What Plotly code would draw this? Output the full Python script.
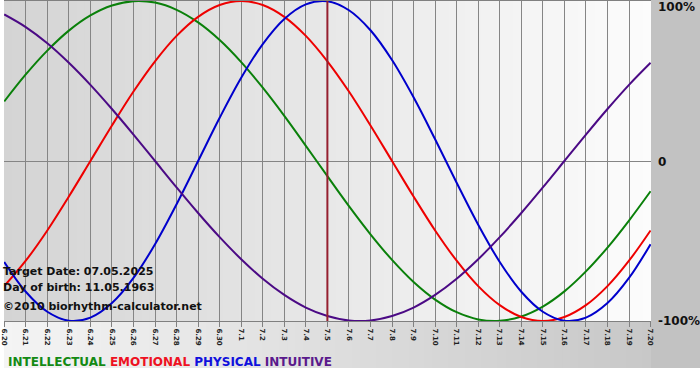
import plotly.graph_objects as go

# ---------------- data ----------------
date_labels = ["6.20", "6.21", "6.22", "6.23", "6.24", "6.25", "6.26", "6.27", "6.28", "6.29",
               "6.30", "7.1", "7.2", "7.3", "7.4", "7.5", "7.6", "7.7", "7.8", "7.9",
               "7.10", "7.11", "7.12", "7.13", "7.14", "7.15", "7.16", "7.17", "7.18", "7.19", "7.20"]
day_index = list(range(len(date_labels)))

intellectual = [0.372, 0.541, 0.690, 0.815, 0.910, 0.972, 0.999, 0.990, 0.945, 0.866,
                0.756, 0.618, 0.458, 0.282, 0.095, -0.095, -0.282, -0.458, -0.618, -0.756,
                -0.866, -0.945, -0.990, -0.999, -0.972, -0.910, -0.815, -0.690, -0.541, -0.372, -0.189]
emotional = [-0.782, -0.623, -0.434, -0.222, 0.000, 0.222, 0.434, 0.623, 0.782, 0.901,
             0.975, 1.000, 0.975, 0.901, 0.782, 0.623, 0.434, 0.222, 0.000, -0.222,
             -0.434, -0.623, -0.782, -0.901, -0.975, -1.000, -0.975, -0.901, -0.782, -0.623, -0.434]
physical = [-0.631, -0.817, -0.942, -0.998, -0.979, -0.888, -0.731, -0.520, -0.270, 0.000,
            0.270, 0.520, 0.731, 0.888, 0.979, 0.998, 0.942, 0.817, 0.631, 0.398,
            0.136, -0.136, -0.398, -0.631, -0.817, -0.942, -0.998, -0.979, -0.888, -0.731, -0.520]
intuitive = [0.916, 0.837, 0.736, 0.614, 0.476, 0.325, 0.165, 0.000, -0.165, -0.325,
             -0.476, -0.614, -0.736, -0.837, -0.916, -0.969, -0.997, -0.997, -0.969, -0.916,
             -0.837, -0.736, -0.614, -0.476, -0.325, -0.165, 0.000, 0.165, 0.325, 0.476, 0.614]

target_index = 15  # 7.5
y_tick_vals = [1, 0, -1]
y_tick_text = ["100%", "0", "-100%"]

series = [
    ("INTELLECTUAL", intellectual, "#0a800a"),
    ("EMOTIONAL", emotional, "#ee0000"),
    ("PHYSICAL", physical, "#0000cc"),
    ("INTUITIVE", intuitive, "#4b0a85"),
]

# ---------------- layout geometry ----------------
W, H = 700, 380
ML, MR, MT, MB = 0, 49, 1, 59
PW, PH = W - ML - MR, H - MT - MB

def px_x(p):
    return (p - ML) / PW

def px_y(p):
    return (H - MB - p) / PH

def gray(v):
    v = int(round(v))
    return f"rgb({v},{v},{v})"

shapes = []
# plot background gradient (left grey -> right white)
N = 80
for i in range(N):
    t = i / (N - 1)
    shapes.append(dict(type="rect", xref="paper", yref="paper",
                       x0=i / N, x1=(i + 1) / N + 0.002, y0=0, y1=1,
                       fillcolor=gray(212 + (252 - 212) * t), line=dict(width=0), layer="below"))
# bottom strip gradient (light -> grey)
for i in range(N):
    t = i / (N - 1)
    shapes.append(dict(type="rect", xref="paper", yref="paper",
                       x0=i / N, x1=(i + 1) / N + 0.002, y0=px_y(368), y1=0,
                       fillcolor=gray(244 - (244 - 200) * t), line=dict(width=0), layer="below"))
# right margin grey
shapes.append(dict(type="rect", xref="paper", yref="paper",
                   x0=1, x1=px_x(W) + 0.01, y0=px_y(368), y1=px_y(0) + 0.01,
                   fillcolor="rgb(194,194,194)", line=dict(width=0), layer="below"))
# target date line
shapes.append(dict(type="line", xref="x", yref="paper",
                   x0=day_index[target_index], x1=day_index[target_index], y0=0, y1=1,
                   line=dict(color="#962030", width=2), layer="above"))

fig = go.Figure()
for name, vals, col in series:
    fig.add_trace(go.Scatter(x=day_index, y=vals, mode="lines", name=name,
                             line=dict(color=col, width=2, shape="spline", smoothing=1.0),
                             hoverinfo="skip"))

annotations = []
txt_font = dict(family="DejaVu Sans", size=11, color="#111111", weight="bold")
for text, yc in [("Target Date: 07.05.2025", 271.5),
                 ("Day of birth: 11.05.1963", 287),
                 ("©2010 biorhythm-calculator.net", 306.5)]:
    annotations.append(dict(text=text, xref="paper", yref="paper", x=px_x(-3), y=px_y(yc),
                            xanchor="left", yanchor="middle", showarrow=False, font=txt_font))

for v, t, yc in zip(y_tick_vals, y_tick_text, [7, 161.5, 321]):
    annotations.append(dict(text=t, xref="paper", yref="paper", x=px_x(656), y=px_y(yc),
                            xanchor="left", yanchor="middle", showarrow=False,
                            font=dict(family="DejaVu Sans", size=12, color="#111111", weight="bold")))

legend_html = " ".join(
    f'<span style="color:{c}">{n}</span>' for n, c in
    [("INTELLECTUAL", "#148a14"), ("EMOTIONAL", "#ee1122"),
     ("PHYSICAL", "#1010dd"), ("INTUITIVE", "#5a1a8c")]
)
annotations.append(dict(text=legend_html, xref="paper", yref="paper", x=px_x(2), y=px_y(362),
                        xanchor="left", yanchor="middle", showarrow=False,
                        font=dict(family="DejaVu Sans", size=12, weight="bold")))

fig.update_layout(
    width=W, height=H,
    margin=dict(l=ML, r=MR, t=MT, b=MB, pad=0),
    paper_bgcolor="white",
    plot_bgcolor="rgba(0,0,0,0)",
    showlegend=False,
    shapes=shapes,
    annotations=annotations,
    xaxis=dict(range=[-0.01, 30.02], tickvals=day_index, ticktext=date_labels,
               tickangle=90, ticks="outside", ticklen=5, tickcolor="#808080",
               ticklabeloverflow="allow",
               tickfont=dict(family="DejaVu Sans", size=7, color="#222222", weight="bold"),
               showgrid=True, gridcolor="#858585", gridwidth=1,
               zeroline=False, showline=True, linecolor="#808080", linewidth=1, mirror=True,
               fixedrange=True),
    yaxis=dict(range=[-1, 1], showticklabels=False, ticks="", showgrid=False,
               zeroline=True, zerolinecolor="#858585", zerolinewidth=1,
               showline=False, fixedrange=True),
)

fig.write_html("out.html",
               config={"displayModeBar": False},
               post_script="document.body.style.margin='0';document.body.style.overflow='hidden';")
